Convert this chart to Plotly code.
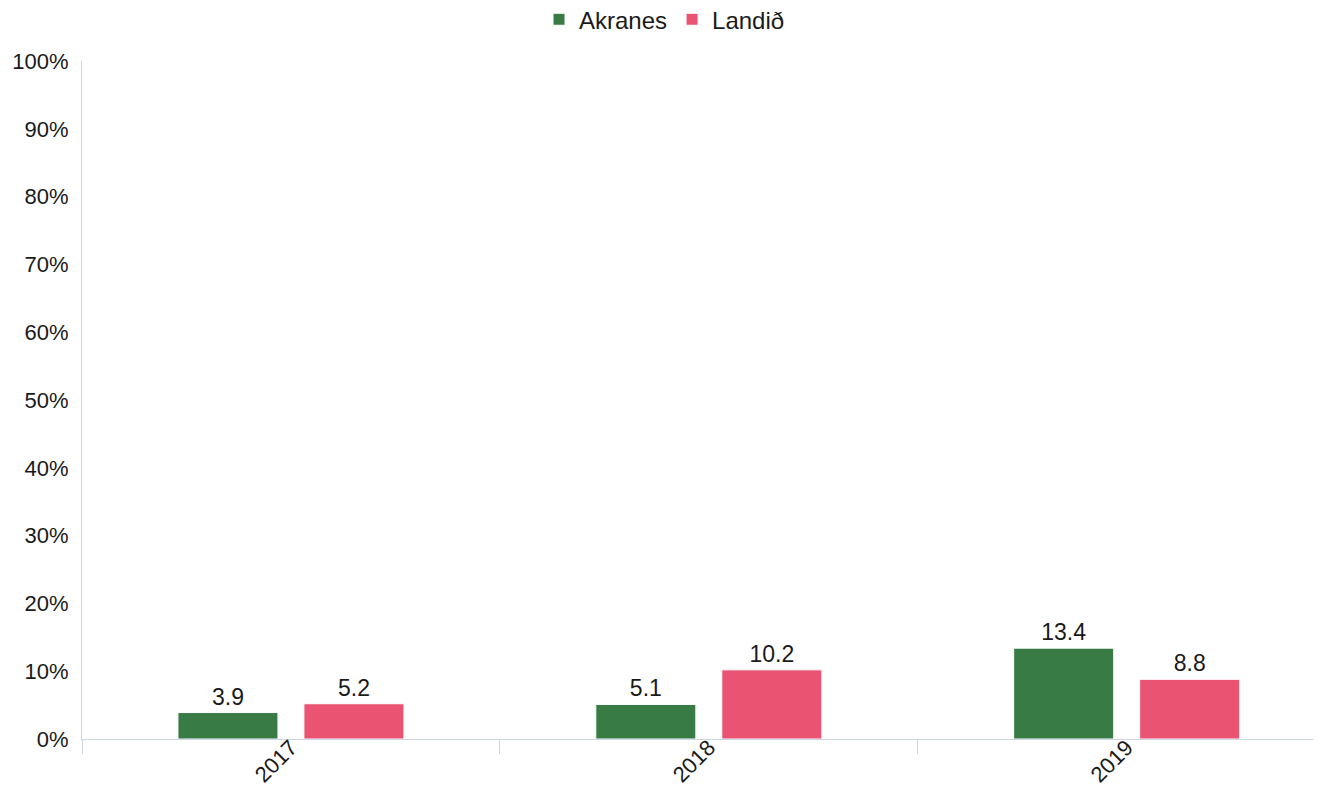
import plotly.graph_objects as go

years = ["2017", "2018", "2019"]
akranes = [3.9, 5.1, 13.4]
landid = [5.2, 10.2, 8.8]
y_ticks = [0, 10, 20, 30, 40, 50, 60, 70, 80, 90, 100]
y_tick_labels = [f"{v}%" for v in y_ticks]

FONT = "Liberation Sans, Arial, sans-serif"
TXT = "#1a1a1a"

fig = go.Figure()
fig.add_trace(go.Bar(
    name="Akranes", x=years, y=akranes,
    marker=dict(color="#387B44", line=dict(color="#ffffff", width=1)),
    text=[f"{v:.1f}" for v in akranes], textposition="outside",
    textfont=dict(size=23, color=TXT, family=FONT),
    cliponaxis=False,
))
fig.add_trace(go.Bar(
    name="Landið", x=years, y=landid,
    marker=dict(color="#EB5372", line=dict(color="#ffffff", width=1)),
    text=[f"{v:.1f}" for v in landid], textposition="outside",
    textfont=dict(size=23, color=TXT, family=FONT),
    cliponaxis=False,
))

# page body has an 8px default margin, so the figure is sized to fit the window
fig.update_layout(
    width=1313, height=778,
    margin=dict(l=74, r=0, t=53, b=47, autoexpand=False),
    paper_bgcolor="white", plot_bgcolor="white",
    font=dict(family=FONT, size=22, color=TXT),
    barmode="group", bargap=0.397, bargroupgap=0.206,
    showlegend=True,
    legend=dict(orientation="h", x=0.5, xanchor="center", xref="container",
                y=0.985, yanchor="middle", yref="container",
                font=dict(size=24, color=TXT), itemwidth=30,
                traceorder="normal"),
    uniformtext=dict(minsize=10),
)
fig.update_xaxes(
    type="category", range=[-0.5, 2.465], automargin=False,
    showline=True, linecolor="#ccd6eb", linewidth=1,
    ticks="outside", tickson="boundaries", ticklen=14, tickcolor="#ccd6eb",
    tickangle=-45, tickfont=dict(size=22, color=TXT),
    ticklabelstandoff=-14,
    showgrid=False, zeroline=False,
)
fig.update_yaxes(
    range=[0, 100], tickvals=y_ticks, ticktext=y_tick_labels, automargin=False,
    showline=True, linecolor="#ccd6eb", linewidth=1,
    showgrid=False, zeroline=False,
    tickfont=dict(size=22, color=TXT),
    ticks="", ticklabelstandoff=8,
)

fig.write_html("out.html")
